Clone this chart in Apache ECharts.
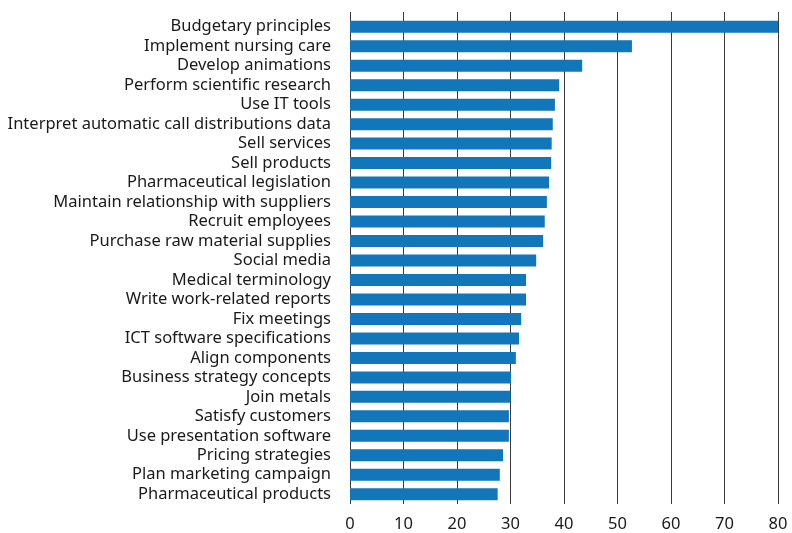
<!DOCTYPE html>
<html>
<head>
<meta charset="utf-8">
<script src="https://cdn.jsdelivr.net/npm/echarts@6/dist/echarts.min.js"></script>
<style>
  html, body { margin: 0; padding: 0; background: #fff; }
  #chart { width: 792px; height: 533px; }
</style>
</head>
<body>
<div id="chart"></div>
<script>
// skills, top to bottom as drawn
const skills = [
  "Budgetary principles",
  "Implement nursing care",
  "Develop animations",
  "Perform scientific research",
  "Use IT tools",
  "Interpret automatic call distributions data",
  "Sell services",
  "Sell products",
  "Pharmaceutical legislation",
  "Maintain relationship with suppliers",
  "Recruit employees",
  "Purchase raw material supplies",
  "Social media",
  "Medical terminology",
  "Write work-related reports",
  "Fix meetings",
  "ICT software specifications",
  "Align components",
  "Business strategy concepts",
  "Join metals",
  "Satisfy customers",
  "Use presentation software",
  "Pricing strategies",
  "Plan marketing campaign",
  "Pharmaceutical products"
];
const values = [
  80, 52.7, 43.4, 39.1, 38.3, 37.9, 37.7, 37.6, 37.2, 36.8,
  36.4, 36.1, 34.8, 32.9, 32.9, 32.0, 31.6, 31.0, 30.1, 30.0,
  29.7, 29.7, 28.6, 28.0, 27.6
];
const xTicks = [0, 10, 20, 30, 40, 50, 60, 70, 80];

const chart = echarts.init(document.getElementById("chart"));
const font = "'Noto Sans', sans-serif";

chart.setOption({
  backgroundColor: "#fff",
  animation: false,
  grid: [
    { left: 350, right: 14, top: 17, bottom: 29 },
    // gridlines run a bit past the bars, so they live on their own grid
    { left: 350, right: 14, top: 12, bottom: 25 }
  ],
  xAxis: [
    {
      gridIndex: 0, type: "value", min: 0, max: 80, interval: 10,
      show: false
    },
    {
      gridIndex: 1, type: "value", min: xTicks[0], max: xTicks[xTicks.length - 1], interval: 10,
      axisLine: { show: false },
      axisTick: { show: false },
      axisLabel: { color: "#1a1a1a", fontSize: 16.5, fontFamily: font, margin: 12 },
      splitLine: { lineStyle: { color: "#3a3a3a", width: 1 } }
    }
  ],
  yAxis: [
    {
      gridIndex: 0, type: "category", inverse: true, data: skills,
      axisLine: { show: false },
      axisTick: { show: false },
      axisLabel: {
        interval: 0, color: "#1a1a1a", fontSize: 16.5, fontFamily: font, margin: 19,
        padding: [0, 0, 9, 0]
      }
    },
    {
      gridIndex: 1, type: "value", show: false
    }
  ],
  series: [
    {
      type: "bar",
      xAxisIndex: 0,
      yAxisIndex: 0,
      data: values,
      barWidth: 12,
      itemStyle: { color: "#1276ba" }
    }
  ]
});
</script>
</body>
</html>
